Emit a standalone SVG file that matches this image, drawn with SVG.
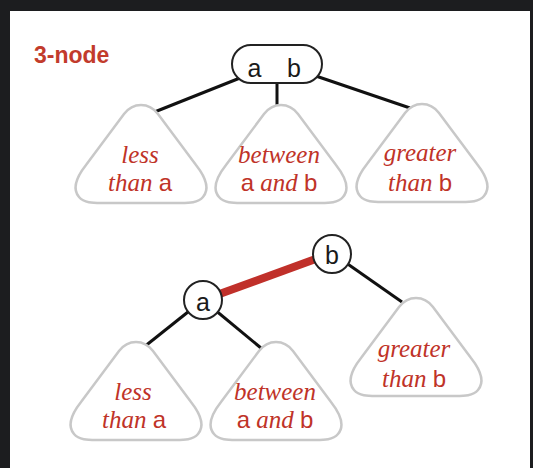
<svg xmlns="http://www.w3.org/2000/svg" xmlns:xlink="http://www.w3.org/1999/xlink" width="533" height="468" viewBox="0 0 533 468">
<style>
.title{font-family:"Liberation Sans",Arial,sans-serif;font-weight:bold;font-size:23px;fill:#c23b2c}
.key{font-family:"Liberation Sans",Arial,sans-serif;font-size:25px;fill:#1a1a1a;text-anchor:middle}
.lbl{font-size:25px;fill:#bf3328;text-anchor:middle}
.it{font-family:"Liberation Serif","Times New Roman",serif;font-style:italic}
.sf{font-family:"Liberation Sans",Arial,sans-serif;font-style:normal;font-size:24px}
.edge{stroke:#111;stroke-width:3;fill:none}
.red{stroke:#c0302a;stroke-width:8;fill:none}
.node{fill:#fff;stroke:#222;stroke-width:2}
.sub{fill:#fff;stroke:#c8c8c8;stroke-width:2.5}
</style>
<defs>
<path id="tri" d="M -17,9 C -8,-3 8,-3 17,9 L 55,60 C 66,74 68,85 62,92 C 57,98 48,98 40,98 L -40,98 C -48,98 -57,98 -62,92 C -68,85 -66,74 -55,60 Z"/>
</defs>
<rect x="0" y="0" width="533" height="468" fill="#1c1d1f"/>
<rect x="10" y="11" width="520" height="457" fill="#fff"/>
<text class="title" x="34" y="63">3-node</text>
<g id="connectors">
<line class="edge" x1="245" y1="76" x2="152" y2="113"/>
<line class="edge" x1="277" y1="80" x2="277" y2="108"/>
<line class="edge" x1="310" y1="74" x2="410" y2="108"/>
<line class="red" x1="203" y1="300" x2="332" y2="253"/>
<line class="edge" x1="332" y1="253" x2="402" y2="302"/>
<line class="edge" x1="203" y1="300" x2="144" y2="347"/>
<line class="edge" x1="203" y1="300" x2="261" y2="348"/>
</g>
<g id="root3">
<rect class="node" x="232" y="45" width="90" height="38" rx="19"/>
<text class="key" y="77"><tspan x="258">a</tspan> <tspan x="294">b</tspan></text>
</g>
<g id="t-less">
<use xlink:href="#tri" href="#tri" class="sub" x="141" y="105"/>
<text class="lbl" x="140" y="163"><tspan class="it">less</tspan></text>
<text class="lbl" x="140" y="191"><tspan class="it">than</tspan> <tspan class="sf">a</tspan></text>
</g>
<g id="t-between">
<use xlink:href="#tri" href="#tri" class="sub" x="281" y="105"/>
<text class="lbl" x="279" y="163"><tspan class="it">between</tspan></text>
<text class="lbl" x="279" y="191"><tspan class="sf">a</tspan> <tspan class="it">and</tspan> <tspan class="sf">b</tspan></text>
</g>
<g id="t-greater">
<use xlink:href="#tri" href="#tri" class="sub" x="422" y="104"/>
<text class="lbl" x="420" y="161"><tspan class="it">greater</tspan></text>
<text class="lbl" x="420" y="191"><tspan class="it">than</tspan> <tspan class="sf">b</tspan></text>
</g>
<g id="node-a">
<circle class="node" cx="203" cy="300" r="19"/>
<text class="key" x="203" y="311">a</text>
</g>
<g id="node-b">
<circle class="node" cx="332" cy="254" r="19"/>
<text class="key" x="332" y="264">b</text>
</g>
<g id="b-less">
<use xlink:href="#tri" href="#tri" class="sub" x="136" y="342"/>
<text class="lbl" x="133" y="400"><tspan class="it">less</tspan></text>
<text class="lbl" x="134" y="428"><tspan class="it">than</tspan> <tspan class="sf">a</tspan></text>
</g>
<g id="b-between">
<use xlink:href="#tri" href="#tri" class="sub" x="276" y="342"/>
<text class="lbl" x="275" y="400"><tspan class="it">between</tspan></text>
<text class="lbl" x="275" y="428"><tspan class="sf">a</tspan> <tspan class="it">and</tspan> <tspan class="sf">b</tspan></text>
</g>
<g id="b-greater">
<use xlink:href="#tri" href="#tri" class="sub" x="416" y="298"/>
<text class="lbl" x="414" y="357"><tspan class="it">greater</tspan></text>
<text class="lbl" x="414" y="387"><tspan class="it">than</tspan> <tspan class="sf">b</tspan></text>
</g>
</svg>
